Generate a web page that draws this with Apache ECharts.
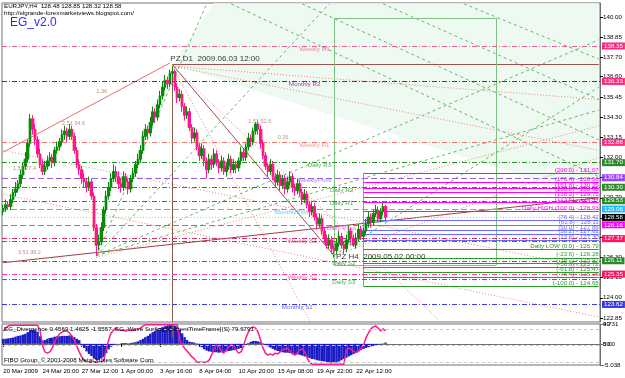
<!DOCTYPE html>
<html><head><meta charset="utf-8">
<script src="https://cdn.jsdelivr.net/npm/echarts@6/dist/echarts.min.js"></script>
<style>html,body{margin:0;padding:0;background:#fff}#c{width:625px;height:378px}</style>
</head><body><div id="c"></div>
<script>
// ---------------- DATA ----------------
const xLabels = ['20 Mar 2009','24 Mar 20:00','27 Mar 12:00','1 Apr 00:00','3 Apr 16:00','8 Apr 04:00','10 Apr 20:00','15 Apr 08:00','19 Apr 22:00','22 Apr 12:00'];
const priceTicks = [140.00,138.85,137.70,136.60,135.45,134.30,133.15,132.00,130.85,129.70,128.55,127.45,126.30,125.15,124.00,122.85];

const opens = [128.9,129.1,129.3,129.2,129.6,130.0,130.2,130.5,131.0,131.5,
131.9,132.8,134.2,133.6,133.0,132.2,131.6,131.2,131.5,131.8,
132.0,131.7,132.4,132.6,132.9,133.3,133.5,133.2,133.6,133.2,
132.4,131.6,131.3,130.8,130.6,130.3,130.6,129.8,128.0,127.0,
127.2,128.0,129.0,129.8,130.3,130.8,131.2,130.9,130.5,130.3,
130.9,130.6,130.2,130.8,131.1,131.6,131.9,132.4,133.2,133.6,
133.4,134.0,134.6,134.3,135.0,135.5,136.0,136.4,136.2,136.8,
136.9,136.0,135.4,135.6,134.9,134.4,134.6,133.7,133.1,133.4,
132.6,132.1,132.5,131.8,131.3,131.9,131.6,132.2,131.7,131.4,
131.8,131.2,131.5,131.9,131.3,131.6,131.4,131.8,132.3,132.0,
132.6,133.1,132.9,133.5,133.9,133.6,132.8,132.1,131.5,131.2,
131.6,130.9,130.6,131.0,130.4,130.8,130.2,130.6,130.9,130.3,
130.1,130.5,130.0,129.6,129.9,129.3,128.9,129.2,128.6,128.2,
128.5,127.8,127.4,127.0,127.3,126.8,126.7,127.1,127.5,127.0,
126.8,127.3,127.8,127.4,127.0,127.4,127.9,127.5,127.8,128.2,
128.6,128.3,128.8,129.0,128.5,128.9,129.2];
const closes = [129.1,129.3,129.2,129.6,130.0,130.2,130.5,131.0,131.5,131.9,
132.8,134.2,133.6,133.0,132.2,131.6,131.2,131.5,131.8,132.0,
131.7,132.4,132.6,132.9,133.3,133.5,133.2,133.6,133.2,132.4,
131.6,131.3,130.8,130.6,130.3,130.6,129.8,128.0,127.0,127.2,
128.0,129.0,129.8,130.3,130.8,131.2,130.9,130.5,130.3,130.9,
130.6,130.2,130.8,131.1,131.6,131.9,132.4,133.2,133.6,133.4,
134.0,134.6,134.3,135.0,135.5,136.0,136.4,136.2,136.8,136.9,
136.0,135.4,135.6,134.9,134.4,134.6,133.7,133.1,133.4,132.6,
132.1,132.5,131.8,131.3,131.9,131.6,132.2,131.7,131.4,131.8,
131.2,131.5,131.9,131.3,131.6,131.4,131.8,132.3,132.0,132.6,
133.1,132.9,133.5,133.9,133.6,132.8,132.1,131.5,131.2,131.6,
130.9,130.6,131.0,130.4,130.8,130.2,130.6,130.9,130.3,130.1,
130.5,130.0,129.6,129.9,129.3,128.9,129.2,128.6,128.2,128.5,
127.8,127.4,127.0,127.3,126.8,126.7,127.1,127.5,127.0,126.8,
127.3,127.8,127.4,127.0,127.4,127.9,127.5,127.8,128.2,128.6,
128.3,128.8,129.0,128.5,128.9,129.2,128.58];
const lows = [128.7,128.9,129.0,129.0,129.4,129.8,130.0,130.3,130.8,131.3,
131.7,132.6,133.3,132.7,132.0,131.4,131.0,131.0,131.3,131.5,
131.4,131.5,132.2,132.4,132.7,133.0,132.9,133.0,133.0,132.2,
131.4,131.0,130.5,130.3,130.0,130.1,129.6,127.8,126.4,126.7,
127.0,127.8,128.8,129.6,130.1,130.6,130.6,130.2,130.0,130.1,
130.3,129.9,130.0,130.6,130.9,131.4,131.7,132.2,133.0,133.0,
133.2,133.8,134.0,134.1,134.8,135.3,135.8,135.9,136.0,136.5,
135.8,135.1,135.2,134.6,134.1,134.2,133.5,132.8,132.9,132.4,
131.8,131.9,131.5,130.8,131.1,131.3,131.4,131.5,131.1,131.2,
131.0,130.9,131.3,131.1,131.1,131.1,131.2,131.6,131.8,131.8,
132.4,132.6,132.7,133.3,133.3,132.5,131.9,131.3,130.9,131.0,
130.7,130.3,130.4,130.1,130.2,129.9,130.0,130.4,130.0,129.8,
129.9,129.8,129.3,129.4,129.1,128.6,128.7,128.4,127.9,128.0,
127.6,127.1,126.8,126.8,126.5,126.3,126.5,126.9,126.8,126.5,
126.6,127.1,127.1,126.9,126.8,127.2,127.3,127.3,127.6,128.0,
128.0,128.1,128.6,128.3,128.3,128.7,128.4];
const highs = [129.3,129.6,129.5,129.9,130.2,130.6,130.7,131.3,131.7,132.3,
133.0,134.47,134.4,133.9,133.2,132.5,131.9,131.8,132.1,132.3,
132.2,132.6,132.9,133.1,133.6,133.8,133.7,133.9,133.8,133.4,
132.6,131.9,131.5,131.1,130.8,130.9,130.8,130.0,128.2,127.6,
128.3,129.2,130.1,130.6,131.1,131.6,131.5,131.2,130.8,131.2,
131.1,130.8,131.0,131.4,131.8,132.2,132.7,133.5,133.9,133.8,
134.3,134.9,134.8,135.3,135.8,136.3,136.7,136.6,137.0,137.2,
137.0,136.2,135.9,135.8,135.1,134.9,134.8,133.9,133.7,133.6,
132.8,132.8,132.7,132.0,132.2,132.1,132.5,132.4,131.9,132.1,
132.0,131.7,132.2,132.1,131.9,131.8,132.0,132.6,132.5,132.8,
133.4,133.3,133.7,134.0,134.1,133.8,133.0,132.3,131.7,131.9,
131.8,131.1,131.3,131.2,131.0,131.0,130.9,131.2,131.1,130.5,
130.8,130.7,130.2,130.2,130.1,129.5,129.5,129.4,128.8,128.8,
128.7,128.0,127.6,127.6,127.5,127.0,127.4,127.8,127.7,127.2,
127.6,128.1,128.0,127.6,127.7,128.2,128.1,128.0,128.5,128.9,
128.8,129.0,129.3,129.2,129.1,129.4,129.3];

const divergence = [1.2,1.2,1.3,1.4,1.5,1.7,1.9,2.0,2.2,2.4,
2.8,3.3,3.4,3.2,2.9,1.8,0.8,0.9,1.2,1.4,
1.5,1.7,1.8,1.8,1.9,1.9,1.9,2.0,1.9,1.6,
1.2,0.9,-0.2,-1.0,-1.8,-2.4,-2.9,-3.4,-3.8,-3.8,
-3.5,-3.1,-2.2,-1.3,-0.7,-0.3,-0.1,0.0,0.1,0.2,
0.2,0.1,0.2,0.3,0.4,0.6,0.9,1.2,1.6,1.9,
2.4,2.8,3.1,3.5,3.8,4.0,4.2,4.4,4.5,4.5,
4.3,4.1,3.4,2.5,1.6,0.9,0.5,0.4,0.3,0.1,
-0.3,-0.8,-1.3,-1.6,-1.8,-1.9,-2.0,-2.0,-2.1,-2.0,
-1.9,-1.8,-1.7,-1.6,-1.5,-1.4,-1.2,-1.0,-0.6,-0.2,
0.2,0.5,0.7,0.7,0.6,0.4,0.1,-0.3,-0.6,-0.9,
-1.2,-1.5,-1.7,-1.9,-2.0,-2.1,-2.1,-2.2,-2.3,-2.4,
-2.5,-2.6,-2.8,-3.0,-3.2,-3.4,-3.6,-3.7,-3.9,-4.0,
-4.1,-4.2,-4.3,-4.4,-4.5,-4.5,-4.4,-4.2,-3.9,-3.6,
-3.3,-3.0,-2.7,-2.4,-2.1,-1.8,-1.5,-1.2,-1.0,-0.8,
-0.6,-0.5,-0.4,-0.2,-0.1,0.1,0.3];
const waveSurfing = [83,90,95,97,97,97,97,97,97,97,
97,97,97,97,97,85,49,32,29,32,
41,56,68,76,80,83,83,78,71,61,
46,32,20,12,7,7,7,7,7,7,
7,12,37,61,78,85,90,86,85,84,
85,86,84,85,86,88,90,95,98,98,
98,98,98,98,98,98,98,98,98,98,
98,98,61,49,41,34,27,20,15,7,
7,7,7,7,12,24,39,49,44,34,
29,37,44,49,46,37,29,32,46,66,
80,90,93,90,80,61,41,29,24,27,
24,29,27,32,37,39,41,34,27,24,
29,37,39,32,17,7,2,2,2,2,
2,2,2,2,2,2,2,2,2,2,
37,41,38,33,30,35,40,49,66,78,
88,93,95,90,83,88,83];

const levelNames  = ['Weekly R3','Monthly R2','Weekly R1','Daily R3','WeeklyPivot','Daily R2','Daily R1','MonthlyPivot','Daily Pivot','Weekly S1','Daily S1','Daily S2','Weekly S2','Daily S3','Monthly S1'];
const levelValues = [138.35,136.33,132.86,131.70,130.84,130.30,129.53,129.06,128.16,127.37,127.25,126.11,125.35,125.05,123.62];
const currentPrice = 128.58;

const fibNames  = ['(200.0)','(176.4)','(161.8)','(150.0)','(138.2)','(123.6)','Daily HIGH (100.0)','(76.4)','(61.8)','(50.0)','(38.2)','(23.6)','Daily LOW (0.0)','(-23.6)','(-38.2)','(-50.0)','(-61.8)','(-76.4)','(-100.0)'];
const fibValues = [131.07,130.56,130.25,130.00,129.75,129.44,128.93,128.42,128.11,127.86,127.61,127.30,126.79,126.28,125.97,125.72,125.47,125.16,124.65];

// annotations: [text, bar, price]
const notes = [['PZ D1  2009.06.03 12:00',69,137.2],['PZ H4  2009.05.02 00:00',135,126.35],['1.36',38,135.7],['2.51 34.6',24,133.85],['1.51 27.4',4,131.3],['3.51 38.2',6,126.5],['0.26',112,133.1],['1.51 52.6',100,134.0]];

// ---------------- LAYOUT / STYLE ----------------
const NSLOT = 244;
const cats = Array.from({length: NSLOT}, (_, i) => (i % 16 === 0 && i / 16 < xLabels.length) ? xLabels[i / 16] : '');
const YMIN = 122.62, YMAX = 140.80;
const DASHDOT = [5,2,1,2], DASH = [6,3], DOT = [1,2];
const levelStyle = [
  ['#e8609a',DASHDOT,'#ff2a7f',127],
  ['#901088',DASHDOT,'#ff2a7f',123],
  ['#ec7a70',DASHDOT,'#ff2a7f',127],
  ['#229622',DASHDOT,'#2a8a2a',129],
  ['#9060e0',DASH,'#9a40ff',127],
  ['#229622',DASHDOT,'#2a8a2a',138],
  ['#229622',DASHDOT,'#2a8a2a',138],
  ['#30c0ff',DASH,'#22bbff',118],
  ['#ff30ff',DASH,'#ff00ff',138],
  ['#d0306a',DASHDOT,'#ff1060',122],
  ['#229622',DASHDOT,null,139],
  ['#229622',DASHDOT,'#2a8a2a',139],
  ['#ff3aa0',DASHDOT,'#ff1060',122],
  ['#229622',DASHDOT,null,139],
  ['#3a3ae0',DASHDOT,'#3a3ae0',120]
];
const FONT = 'Liberation Sans, Arial, sans-serif';
const FS = 6.2;

const boxLabel = (v, bg) => ({show: true, position: 'end', distance: 2, formatter: v.toFixed(2), backgroundColor: bg, color: '#fff',
  fontSize: FS, fontFamily: FONT, padding: [1,2,0,2]});
const levelLines = levelValues.map((v, k) => {
  const s = levelStyle[k];
  return {yAxis: v, lineStyle: {color: s[0], type: s[1], width: 1}, label: s[2] ? boxLabel(v, s[2]) : {show: false}};
});
levelLines.push({yAxis: currentPrice, lineStyle: {color: '#c8c0a0', type: DOT, width: 1}, label: boxLabel(currentPrice, '#000')});

const fibLines = fibValues.map((v, k) => {
  const c = v >= 128.9 ? '#ff00ff' : (v > 126.8 ? '#6a6aff' : '#2e9a2e');
  return [{coord: [147, v], lineStyle: {color: c, width: 1, type: 'solid'},
    label: {show: true, position: 'insideEndTop', distance: 0, formatter: fibNames[k] + ' - ' + v.toFixed(2), color: c, fontSize: FS, fontFamily: FONT}},
    {coord: [243, v]}];
});

const salmon = '#e88878', green = '#6ab86a';
const diag = (a, b, color, type, width) => [{coord: a, lineStyle: {color, type, width: width || 1}}, {coord: b}];
const diagLines = [
  diag([0,132.3],[68,137.38],'#e07070','solid'),
  diag([69,137.3],[135,126.4],'#a05050','solid'),
  diag([0,126.0],[243,129.7],'#a04040','solid'),
  diag([69,137.2],[243,132.4],salmon,DOT),
  diag([69,137.2],[243,135.3],salmon,DOT),
  diag([0,132.4],[243,125.6],salmon,DOT),
  diag([0,129.9],[243,122.9],salmon,DOT),
  diag([38,126.3],[243,133.8],salmon,DOT),
  diag([69,137.2],[125,122.7],salmon,DOT),
  diag([69,137.2],[178,122.7],salmon,DOT),
  diag([38,126.4],[83,140.75],green,[3,3]),
  diag([38,126.4],[133,140.75],green,[3,3]),
  diag([38,126.4],[243,138.7],green,[3,3]),
  diag([38,126.4],[243,134.7],green,[3,3]),
  diag([93,140.75],[243,130.9],green,[3,3]),
  diag([122,140.75],[243,133.0],green,[3,3]),
  diag([155,140.75],[243,135.3],green,[3,3]),
  diag([188,140.75],[243,137.6],green,[3,3]),
  diag([135,126.4],[243,136.0],green,[3,3]),
  diag([135,126.4],[243,132.0],salmon,DOT),
  diag([69,137.3],[243,137.3],'#a05050','solid'),
  diag([69,137.2],[69,YMIN],'#8a5a4a','solid'),
  diag([135,139.94],[201,139.94],'#80c080','solid'),
  diag([135,139.94],[135,125.87],'#80c080','solid'),
  diag([201,139.94],[201,125.87],'#80c080','solid'),
  diag([135,125.87],[201,125.87],'#80c080','solid'),
  diag([147,131.07],[147,124.65],'#9a9a9a','solid')
];
const fillPts = [[69,137.3],[86,140.79],[243,140.79],[243,129.6]];
const candleData = opens.map((o, i) => [o, closes[i], lows[i], highs[i]]);

const chart = echarts.init(document.getElementById('c'), null, {renderer: 'canvas'});
chart.setOption({
  animation: false,
  backgroundColor: '#fff',
  textStyle: {fontFamily: FONT},
  grid: [
    {left: 2, right: 25, top: 3, height: 319, show: true, borderColor: '#707070', borderWidth: 1, backgroundColor: '#fff'},
    {left: 2, right: 25, top: 324, height: 41, show: true, borderColor: '#707070', borderWidth: 1, backgroundColor: '#fff'}
  ],
  xAxis: [
    {gridIndex: 0, type: 'category', data: cats, boundaryGap: true, axisLabel: {show: false}, axisTick: {show: false}, axisLine: {show: false}, splitLine: {show: false}},
    {gridIndex: 1, type: 'category', data: cats, boundaryGap: true, axisLine: {show: true, lineStyle: {color: '#707070'}},
      axisTick: {show: true, length: 3, alignWithLabel: true, interval: (i) => i % 16 === 0 && i <= 144, lineStyle: {color: '#000'}},
      axisLabel: {show: true, interval: (i) => i % 16 === 0 && i <= 144, align: 'left', fontSize: FS, color: '#000', margin: 3, fontFamily: FONT, hideOverlap: false},
      splitLine: {show: false}}
  ],
  yAxis: [
    {gridIndex: 0, type: 'value', position: 'right', min: YMIN, max: YMAX, splitLine: {show: false},
      axisLine: {show: true, lineStyle: {color: '#707070'}},
      axisTick: {show: true, length: 3, customValues: priceTicks, lineStyle: {color: '#000'}},
      axisLabel: {customValues: priceTicks, formatter: (v) => v.toFixed(2), fontSize: FS, color: '#000', margin: 3, fontFamily: FONT}},
    {gridIndex: 1, type: 'value', position: 'right', min: -5.038, max: 4.731, splitLine: {show: false},
      axisLine: {show: true, lineStyle: {color: '#707070'}},
      axisTick: {show: true, length: 3, customValues: [4.731, 0, -5.038]},
      axisLabel: {customValues: [4.731, 0, -5.038], formatter: (v) => v === 0 ? '0.00' : String(v), fontSize: FS, color: '#000', margin: 3, fontFamily: FONT}},
    {gridIndex: 1, type: 'value', position: 'right', min: 0, max: 100, splitLine: {show: false},
      axisLine: {show: false}, axisTick: {show: false},
      axisLabel: {customValues: [99, 50], formatter: (v) => String(v), fontSize: FS, color: '#000', margin: 3, fontFamily: FONT}}
  ],
  graphic: [
    {type: 'text', left: 4, top: 3, style: {text: 'EURJPY,H4  128.48 128.85 128.32 128.58', fontSize: FS, fill: '#000', fontFamily: FONT}},
    {type: 'text', left: 4, top: 10, style: {text: 'http://elgrande-forexmarketviews.blogspot.com/', fontSize: FS, fill: '#000', fontFamily: FONT}},
    {type: 'text', left: 10, top: 17, style: {text: 'EG_v2.0', fontSize: 12, fill: '#2a2aff', fontFamily: FONT}},
    {type: 'text', left: 4, top: 326, z: 100, style: {text: 'EG_Divergence 0.4569 1.4625 -1.5557  EG_Wave Surfing [CurrentTimeFrame](S) 79.6791', fontSize: FS, fill: '#000', fontFamily: FONT}},
    {type: 'text', left: 4, top: 357, z: 100, style: {text: 'FIBO Group, \u00a9 2001-2008 MetaQuotes Software Corp.', fontSize: FS, fill: '#000', fontFamily: FONT}}
  ],
  series: [
    {type: 'custom', xAxisIndex: 0, yAxisIndex: 0, z: 0, silent: true, clip: true, data: fillPts,
      renderItem: (params, api) => {
        if (params.dataIndex !== 0) return null;
        return {type: 'polygon', shape: {points: fillPts.map(p => api.coord(p))}, style: {fill: '#eef9f1'}};
      }},
    {type: 'line', xAxisIndex: 0, yAxisIndex: 0, data: [], z: 1, silent: true,
      markLine: {symbol: ['none','none'], silent: true, animation: false, data: diagLines, label: {show: false}}},
    {type: 'line', xAxisIndex: 0, yAxisIndex: 0, data: [], z: 2, silent: true,
      markLine: {symbol: ['none','none'], silent: true, animation: false, data: fibLines}},
    {type: 'line', xAxisIndex: 0, yAxisIndex: 0, data: [], z: 3, silent: true,
      markLine: {symbol: ['none','none'], silent: true, animation: false, data: levelLines}},
    {type: 'candlestick', xAxisIndex: 0, yAxisIndex: 0, z: 4, barWidth: 3.5, silent: true, data: candleData,
      itemStyle: {color: '#a8dca8', color0: '#ffb0a8', borderColor: '#a8dca8', borderColor0: '#ffb0a8', borderWidth: 1}},
    {type: 'candlestick', xAxisIndex: 0, yAxisIndex: 0, z: 5, barWidth: 2, data: candleData,
      itemStyle: {color: '#0a8a0a', color0: '#ff1493', borderColor: '#0a8a0a', borderColor0: '#ff1493', borderWidth: 1}},
    {type: 'scatter', xAxisIndex: 0, yAxisIndex: 0, z: 6, symbolSize: 0, silent: true,
      data: levelNames.map((n, k) => ({value: [levelStyle[k][3], levelValues[k]], name: n,
        label: {show: true, position: 'bottom', distance: 0, formatter: n, color: levelStyle[k][0], fontSize: FS, fontFamily: FONT}}))},
    {type: 'scatter', xAxisIndex: 0, yAxisIndex: 0, z: 6, symbolSize: 0, silent: true,
      data: notes.map((n, k) => ({value: [n[1], n[2]], label: {show: true, position: k < 2 ? (k === 0 ? [-2, -11] : [2, -4]) : [0, -4],
        formatter: n[0], color: k < 2 ? '#000' : '#b07060', fontSize: k < 2 ? 8 : 5.5, fontFamily: FONT}}))},
    {type: 'bar', xAxisIndex: 1, yAxisIndex: 1, data: divergence, barCategoryGap: '0%', z: 2,
      itemStyle: {color: '#1a1ad8', decal: {symbol: 'rect', symbolSize: 0.4, color: 'rgba(0,0,60,0.7)', dashArrayX: [1,1], dashArrayY: [1,1]}}},
    {type: 'line', xAxisIndex: 1, yAxisIndex: 2, data: waveSurfing, symbol: 'none', z: 3,
      lineStyle: {color: '#ff1a8c', width: 1.5},
      markLine: {symbol: ['none','none'], silent: true, animation: false, label: {show: false},
        data: [{yAxis: 88}, {yAxis: 49}, {yAxis: 7}], lineStyle: {color: '#c8c8c8', type: [3,3], width: 1}}},
    {type: 'line', xAxisIndex: 1, yAxisIndex: 1, data: [], silent: true,
      markLine: {symbol: ['none','none'], silent: true, animation: false, label: {show: false},
        data: [[{coord: [69, 4.731]}, {coord: [69, 1.5]}]], lineStyle: {color: '#8a5a4a', type: 'solid', width: 1}}}
  ]
});
</script>
</body></html>
